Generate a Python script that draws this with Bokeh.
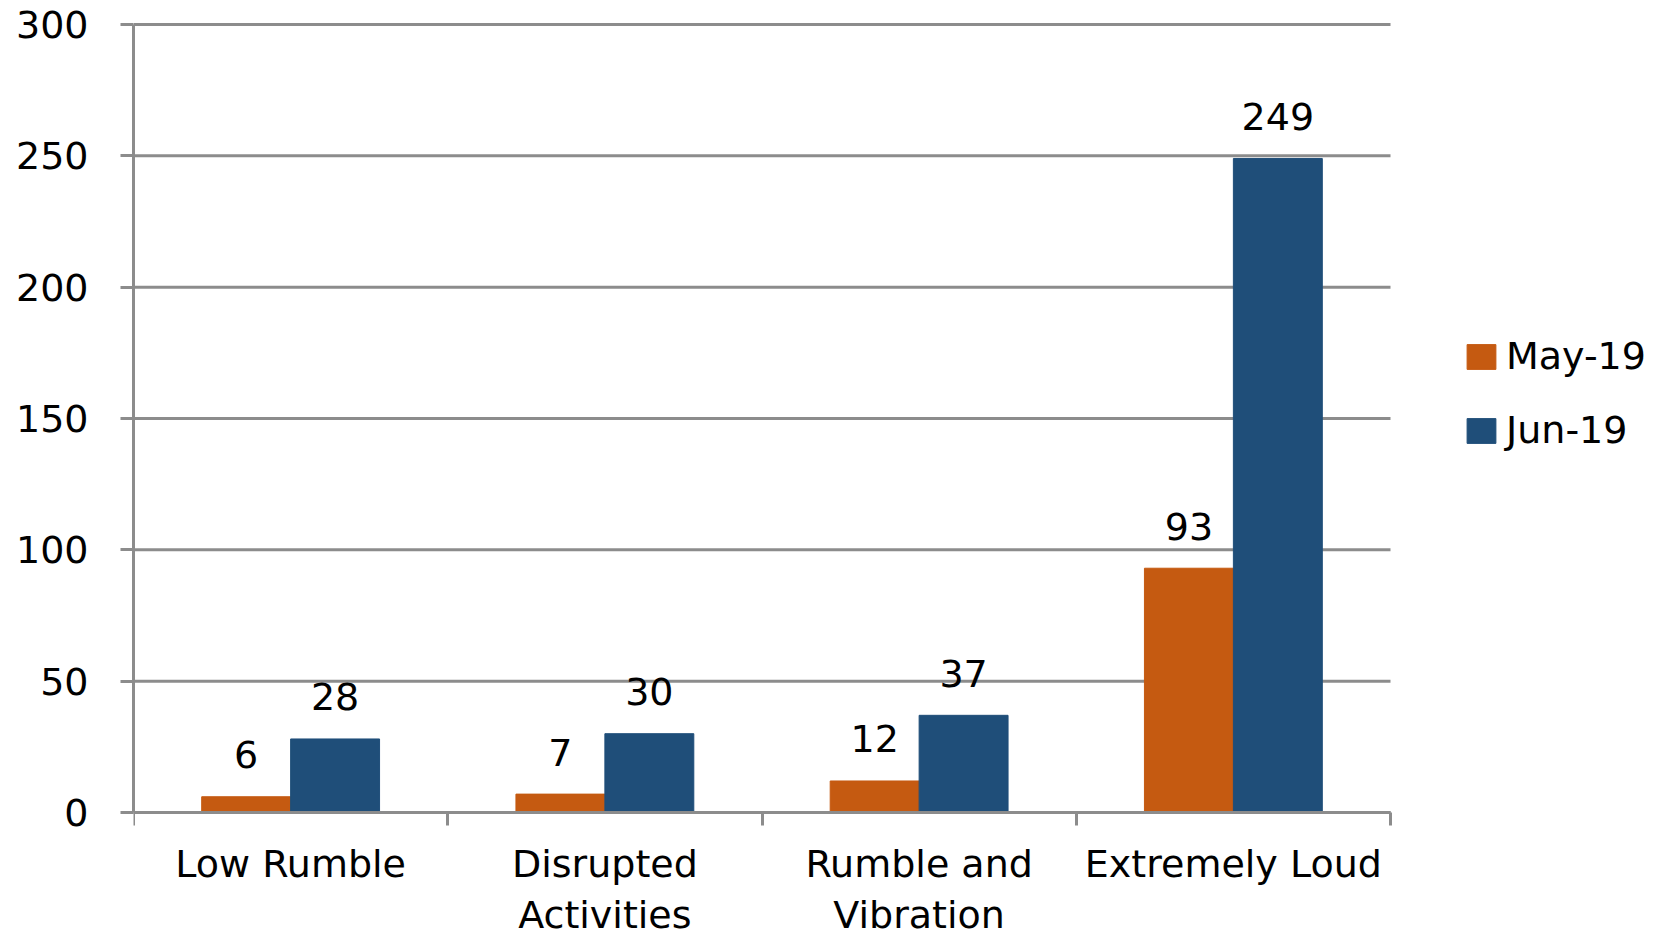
from bokeh.plotting import figure
from bokeh.models import (ColumnDataSource, FixedTicker, Range1d, Legend, LegendItem)
from bokeh.transform import dodge
from bokeh.core.properties import value
from bokeh.embed import file_html
from bokeh.resources import INLINE

categories = ["Low Rumble", "Disrupted Activities", "Rumble and Vibration", "Extremely Loud"]
cat_labels = ["Low Rumble", "Disrupted\nActivities", "Rumble and\nVibration", "Extremely Loud"]
series = ["May-19", "Jun-19"]
may = [6, 7, 12, 93]
jun = [28, 30, 37, 249]
yticks = [0, 50, 100, 150, 200, 250, 300]

ORANGE = "#C55A11"
BLUE = "#1F4E79"
GRAY = "#8c8c8c"
FONT = "DejaVu Sans"
FS = "38px"

# layout (pixels)
W, H = 1661, 940
LEFT, TOP_Y, PLOT_R, BOTTOM_Y = 133, 24, 1390, 812
ncat = len(categories)
px_per_cat = (PLOT_R - LEFT) / ncat
px_per_unit = (BOTTOM_Y - TOP_Y) / yticks[-1]
extra_top = 5  # room so the top grid line is not clipped
x_end = (W - LEFT) / px_per_cat
y_end = yticks[-1] + extra_top / px_per_unit
y_start = -(H - BOTTOM_Y) / px_per_unit

xpos = [i + 0.5 for i in range(ncat)]
src = ColumnDataSource(dict(
    x=xpos, cat=categories, may=may, jun=jun,
    may_lbl=[str(v) for v in may], jun_lbl=[str(v) for v in jun],
))

p = figure(width=W, height=H, output_backend="svg", toolbar_location=None,
           x_range=Range1d(0, x_end), y_range=Range1d(y_start, y_end),
           min_border_left=LEFT, min_border_right=0, min_border_top=TOP_Y - extra_top,
           min_border_bottom=0)
p.outline_line_color = None
p.background_fill_color = "white"
p.xgrid.grid_line_color = None
p.ygrid.grid_line_color = None

# horizontal grid lines, limited to the category area
p.segment(x0=[0] * len(yticks), x1=[ncat] * len(yticks), y0=yticks, y1=yticks,
          line_color=GRAY, line_width=3)

bw = 0.283
r1 = p.vbar(x=dodge("x", -bw / 2, range=p.x_range), top="may", width=bw, source=src,
            fill_color=ORANGE, line_color=ORANGE, line_width=1)
r2 = p.vbar(x=dodge("x", bw / 2, range=p.x_range), top="jun", width=bw, source=src,
            fill_color=BLUE, line_color=BLUE, line_width=1)

for col, lbl, off in (("may", "may_lbl", -bw / 2), ("jun", "jun_lbl", bw / 2)):
    p.text(x=dodge("x", off, range=p.x_range), y=col, text=lbl, source=src,
           text_align="center", text_baseline="alphabetic", y_offset=-42,
           text_font=value(FONT), text_font_size=FS, text_color="black")

# y axis
ya = p.yaxis[0]
ya.ticker = FixedTicker(ticks=yticks)
ya.bounds = (0, yticks[-1])
ya.axis_line_color = GRAY
ya.axis_line_width = 3
ya.major_tick_line_color = GRAY
ya.major_tick_line_width = 3
ya.major_tick_out = 13
ya.major_tick_in = 0
ya.minor_tick_line_color = None
ya.major_label_standoff = 32
ya.major_label_text_font = FONT
ya.major_label_text_font_size = FS
ya.major_label_text_color = "black"

# x axis (drawn at y = 0)
xa = p.xaxis[0]
xa.fixed_location = 0
xa.ticker = FixedTicker(ticks=xpos, minor_ticks=list(range(ncat + 1)))
xa.bounds = (0, ncat)
xa.major_label_overrides = {x: l for x, l in zip(xpos, cat_labels)}
xa.axis_line_color = GRAY
xa.axis_line_width = 3
xa.major_tick_line_color = None
xa.major_tick_out = 0
xa.major_tick_in = 0
xa.minor_tick_line_color = GRAY
xa.minor_tick_line_width = 3
xa.minor_tick_out = 13
xa.minor_tick_in = 0
xa.major_label_standoff = 16
xa.major_label_text_font = FONT
xa.major_label_text_font_size = FS
xa.major_label_text_color = "black"
xa.major_label_text_line_height = 1.17

legend = Legend(items=[LegendItem(label=series[0], renderers=[r1]),
                       LegendItem(label=series[1], renderers=[r2])],
                location=(1463 - LEFT, 488), orientation="vertical",
                glyph_width=36, glyph_height=31, label_standoff=7,
                spacing=30, padding=0, margin=0,
                border_line_color=None, background_fill_alpha=0,
                label_text_font=FONT, label_text_font_size=FS,
                label_text_color="black")
p.add_layout(legend, "center")

open("out.html", "w").write(file_html(p, INLINE))
